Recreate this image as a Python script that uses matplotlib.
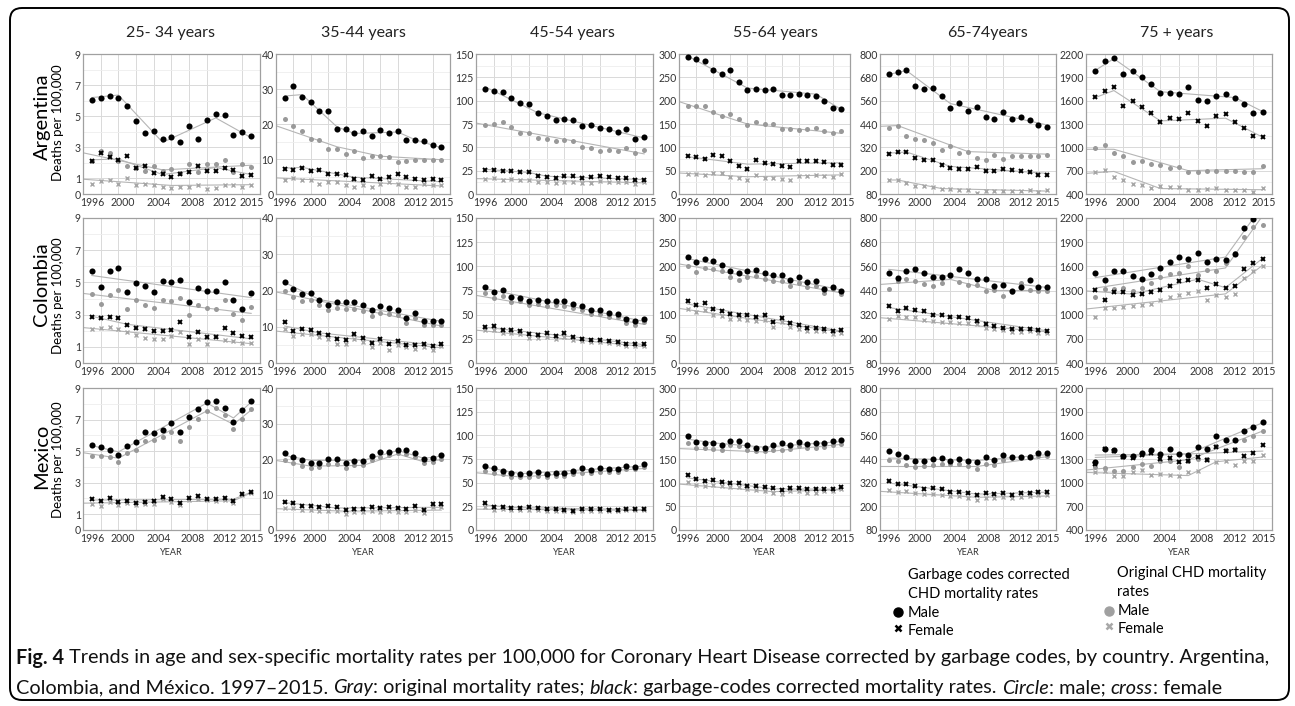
import matplotlib
matplotlib.use("Agg")
import matplotlib.pyplot as plt
from matplotlib.patches import FancyBboxPatch
from matplotlib import font_manager

years = list(range(1997, 2016))

# each panel: [corrected male, corrected female, original male, original female]
arg_25_34 = [
    [6.06, 6.17, 6.28, 6.17, 5.64, 4.68, 3.89, 4.06, 3.53, 3.66, 3.34, 4.34, 3.51, 4.74, 5.15, 5.06, 3.81, 3.98, 3.70],
    [2.13, 2.62, 2.38, 2.21, 2.45, 1.64, 1.81, 1.32, 1.26, 1.11, 1.30, 1.40, 1.81, 1.49, 1.45, 1.66, 1.53, 1.17, 1.21],
    [2.09, 2.77, 2.66, 2.13, 1.83, 1.66, 1.51, 1.79, 1.49, 1.62, 1.34, 1.91, 1.40, 1.91, 1.91, 2.17, 1.43, 1.91, 1.72],
    [0.66, 0.83, 0.91, 0.64, 1.02, 0.57, 0.62, 0.55, 0.47, 0.38, 0.47, 0.45, 0.60, 0.30, 0.40, 0.55, 0.60, 0.45, 0.55]]
arg_35_44 = [
    [27.3, 30.9, 27.7, 26.3, 23.8, 23.7, 18.7, 18.5, 17.5, 18.1, 16.6, 18.2, 17.5, 17.9, 15.3, 15.3, 15.1, 13.9, 13.5],
    [7.2, 7.0, 7.5, 6.7, 6.9, 5.7, 5.8, 5.5, 4.4, 3.9, 5.1, 4.3, 5.0, 5.8, 4.8, 4.3, 3.9, 4.3, 3.9],
    [21.3, 19.3, 18.1, 15.8, 15.3, 12.8, 12.9, 11.4, 12.4, 10.4, 11.0, 11.0, 10.5, 9.1, 9.5, 9.8, 9.6, 9.6, 9.8],
    [4.0, 4.6, 4.1, 3.9, 2.9, 3.5, 3.4, 2.5, 1.9, 2.5, 2.1, 3.0, 3.5, 3.0, 2.1, 2.0, 2.9, 2.5, 2.5]]
arg_45_54 = [
    [112, 110, 109, 103, 97.5, 96, 86.4, 83.2, 79.3, 80.4, 79.3, 73.2, 73.6, 70.4, 69.6, 66.4, 69.6, 58.6, 61],
    [25.4, 26, 24.6, 24.6, 23.9, 23.2, 18.9, 18.2, 16.8, 19.3, 18.9, 16.8, 17.9, 19.6, 18.6, 17.5, 17.5, 15, 15.4],
    [74, 75.4, 76.8, 71.8, 65.4, 65, 60, 58.6, 56.8, 57.9, 56.4, 50.4, 49.3, 46.4, 47.5, 45.7, 49.3, 43.9, 47.5],
    [16.1, 16.8, 15.4, 15.7, 15, 14.6, 13.2, 12.5, 11.4, 13.2, 12.5, 11.4, 11.8, 14.3, 13.2, 12.5, 12.9, 10.7, 12.9]]
arg_55_64 = [
    [293, 289, 285, 266, 257, 266, 241, 223, 226, 222, 225, 212, 213, 214, 213, 211, 199, 184, 182],
    [82, 79, 74, 84, 82, 71, 61, 54, 73, 66, 64, 61, 57, 71, 71, 71, 68, 63, 63],
    [189, 189, 189, 175, 168, 171, 161, 148, 154, 149, 150, 139, 140, 138, 139, 141, 135, 130, 134],
    [43, 43, 41, 46, 44, 37, 34, 29, 41, 35, 34, 32, 29, 39, 39, 40, 39, 37, 42]]
arg_65_74 = [
    [695, 705, 716, 636, 622, 627, 583, 524, 549, 507, 526, 475, 468, 500, 466, 477, 460, 436, 426],
    [288, 294, 295, 266, 255, 253, 229, 212, 207, 207, 221, 200, 199, 211, 202, 197, 194, 178, 178],
    [422, 431, 378, 363, 358, 343, 305, 329, 292, 294, 266, 256, 280, 258, 275, 275, 275, 275, 283],
    [151, 151, 136, 122, 119, 117, 105, 104, 102, 102, 85, 95, 95, 95, 95, 95, 99, 92, 99]]
arg_75 = [
    [1987, 2106, 2145, 1945, 1979, 1906, 1817, 1694, 1694, 1689, 1774, 1613, 1591, 1664, 1681, 1634, 1557, 1447, 1451],
    [1651, 1728, 1779, 1532, 1596, 1523, 1438, 1332, 1374, 1370, 1447, 1336, 1268, 1404, 1426, 1328, 1255, 1140, 1132],
    [987, 1026, 923, 894, 817, 830, 783, 774, 740, 753, 681, 685, 694, 698, 698, 702, 685, 685, 757],
    [685, 711, 613, 583, 532, 519, 477, 498, 494, 489, 447, 447, 464, 472, 455, 455, 447, 426, 481]]

col_25_34 = [
    [5.71, 4.70, 5.71, 5.88, 4.38, 4.94, 4.79, 4.42, 5.09, 5.02, 5.15, 3.80, 4.66, 4.44, 4.44, 5.02, 3.89, 3.35, 4.36],
    [2.86, 2.82, 2.86, 2.82, 2.35, 2.16, 2.09, 2.01, 1.97, 2.05, 2.52, 1.60, 1.92, 1.60, 1.60, 2.20, 1.84, 1.69, 1.60],
    [4.29, 3.65, 4.19, 4.53, 3.38, 3.89, 3.63, 3.44, 3.89, 3.87, 4.02, 2.97, 3.61, 3.42, 3.33, 3.89, 3.06, 2.65, 3.48],
    [2.14, 2.20, 2.22, 2.09, 1.90, 1.71, 1.58, 1.52, 1.50, 1.65, 1.94, 1.20, 1.47, 1.18, 1.65, 1.41, 1.37, 1.26, 1.26]]
col_35_44 = [
    [22.3, 20.4, 19.1, 19.3, 17.3, 15.9, 16.9, 16.7, 16.9, 16.0, 14.5, 15.6, 15.1, 14.5, 12.5, 13.7, 11.7, 11.5, 11.5],
    [11.2, 8.9, 9.4, 9.1, 8.2, 7.6, 6.5, 6.3, 7.9, 6.8, 5.6, 6.5, 5.3, 6.1, 5.1, 5.1, 5.2, 4.6, 5.3],
    [20.0, 18.2, 17.1, 17.5, 15.9, 14.7, 15.3, 14.9, 14.9, 14.3, 13.0, 13.8, 13.5, 13.2, 10.9, 12.5, 10.4, 10.4, 10.5],
    [9.4, 7.5, 8.0, 7.9, 7.1, 6.6, 5.3, 5.2, 6.5, 5.7, 4.3, 5.6, 3.7, 5.0, 4.3, 3.8, 4.3, 3.7, 4.6]]
col_45_54 = [
    [78.6, 73.3, 75.4, 68.3, 67.6, 64.1, 65.5, 63.7, 64.4, 63.7, 60.9, 58.7, 54.4, 54.4, 52.0, 50.5, 45.2, 43.1, 45.2],
    [37.7, 38.1, 34.5, 34.5, 33.1, 29.9, 29.2, 31.0, 28.1, 30.6, 26.7, 25.3, 23.5, 24.2, 23.1, 21.7, 19.9, 19.9, 19.9],
    [71.9, 67.3, 69.8, 63.3, 64.1, 60.5, 60.9, 59.1, 59.8, 59.4, 56.9, 54.8, 50.9, 50.9, 48.0, 47.3, 41.3, 39.5, 42.0],
    [33.8, 34.5, 31.3, 31.0, 30.2, 26.0, 26.0, 27.4, 25.3, 27.4, 23.8, 23.1, 21.4, 22.1, 21.0, 19.6, 17.4, 17.8, 17.1]]
col_55_64 = [
    [220, 209, 216, 212, 203, 191, 186, 190, 193, 186, 183, 182, 171, 177, 167, 169, 154, 157, 149],
    [129, 121, 125, 112, 107, 101, 100, 99, 95, 99, 85, 93, 83, 79, 73, 73, 71, 66, 68],
    [200, 189, 197, 195, 190, 178, 171, 177, 179, 173, 169, 169, 159, 165, 157, 160, 145, 153, 142],
    [112, 105, 110, 99, 98, 92, 92, 88, 87, 89, 75, 85, 75, 71, 67, 67, 67, 61, 63]]
col_65_74 = [
    [529, 502, 537, 548, 526, 505, 507, 517, 548, 526, 498, 497, 463, 469, 437, 458, 493, 458, 458],
    [361, 339, 352, 345, 337, 318, 318, 310, 308, 303, 289, 272, 262, 255, 247, 250, 250, 242, 238],
    [447, 486, 497, 486, 473, 464, 476, 510, 481, 466, 469, 439, 441, 413, 432, 476, 442, 439, 437],
    [299, 311, 310, 308, 293, 291, 286, 286, 279, 277, 272, 253, 248, 243, 233, 233, 238, 230, 231]]
col_75 = [
    [1516, 1431, 1537, 1537, 1478, 1444, 1503, 1580, 1648, 1716, 1690, 1771, 1648, 1686, 1673, 1754, 2077, 2191, 2300],
    [1308, 1185, 1283, 1283, 1240, 1262, 1283, 1304, 1359, 1419, 1427, 1431, 1329, 1380, 1334, 1355, 1563, 1640, 1690],
    [1215, 1317, 1317, 1325, 1291, 1325, 1397, 1465, 1508, 1516, 1610, 1487, 1550, 1546, 1644, 1763, 1958, 2085, 2119],
    [977, 1079, 1088, 1096, 1104, 1117, 1138, 1185, 1215, 1245, 1270, 1296, 1181, 1250, 1220, 1260, 1461, 1545, 1605]]

mex_25_34 = [
    [5.40, 5.26, 5.09, 4.77, 5.32, 5.60, 6.23, 6.16, 6.33, 6.78, 6.20, 7.17, 7.65, 8.14, 8.18, 7.75, 6.85, 7.58, 8.16],
    [1.96, 1.81, 2.00, 1.77, 1.81, 1.72, 1.77, 1.81, 2.11, 1.94, 1.72, 2.04, 2.13, 1.98, 1.96, 2.00, 1.81, 2.28, 2.38],
    [4.66, 4.66, 4.62, 4.28, 4.87, 5.09, 5.65, 5.71, 5.88, 6.20, 5.65, 6.50, 7.04, 7.54, 7.71, 7.28, 6.40, 7.04, 7.65],
    [1.64, 1.55, 1.79, 1.60, 1.68, 1.60, 1.64, 1.64, 1.94, 1.79, 1.57, 1.89, 1.94, 1.87, 1.85, 1.89, 1.74, 2.21, 2.32]]
mex_35_44 = [
    [21.6, 20.6, 19.6, 19.0, 19.0, 20.1, 20.1, 18.8, 19.3, 19.5, 20.9, 22.0, 22.0, 22.6, 22.4, 21.6, 20.1, 20.4, 21.2],
    [7.9, 7.5, 6.8, 6.8, 6.6, 6.8, 6.5, 5.7, 6.0, 5.9, 6.5, 6.3, 6.5, 6.2, 6.0, 6.8, 5.5, 7.2, 7.2],
    [19.8, 19.0, 18.1, 17.6, 17.8, 18.7, 18.6, 17.6, 18.2, 18.2, 19.6, 20.7, 21.0, 21.6, 21.5, 20.6, 19.0, 19.2, 20.0],
    [6.2, 6.1, 5.5, 5.5, 5.3, 5.4, 5.4, 4.6, 5.2, 5.0, 5.3, 5.2, 5.3, 5.2, 5.0, 5.7, 4.7, 6.6, 6.6]]
mex_45_54 = [
    [68.0, 65.1, 62.6, 60.1, 59.4, 59.8, 61.6, 58.7, 60.1, 59.8, 62.6, 65.8, 63.7, 65.1, 64.1, 64.1, 67.6, 66.9, 70.1],
    [28.8, 24.6, 24.6, 23.5, 23.1, 23.8, 23.1, 22.1, 21.7, 21.4, 20.3, 22.1, 22.1, 22.4, 21.0, 21.4, 22.4, 22.4, 22.4],
    [61.9, 59.8, 58.7, 56.2, 55.9, 56.2, 57.3, 55.5, 56.6, 56.9, 58.7, 60.1, 60.1, 61.6, 60.9, 60.9, 64.1, 64.8, 66.9],
    [23.8, 21.4, 21.7, 20.6, 20.6, 21.4, 20.6, 19.9, 19.9, 19.6, 18.9, 19.9, 19.9, 20.3, 19.6, 19.6, 20.6, 20.6, 20.6]]
mex_55_64 = [
    [198, 186, 184, 183, 179, 188, 187, 179, 174, 174, 179, 183, 179, 186, 182, 183, 183, 187, 191],
    [116, 108, 104, 106, 101, 99, 99, 94, 92, 90, 88, 85, 89, 89, 86, 86, 87, 87, 90],
    [184, 174, 174, 172, 170, 179, 177, 170, 167, 167, 168, 170, 172, 178, 174, 174, 175, 180, 182],
    [101, 95, 92, 95, 93, 90, 90, 86, 84, 82, 79, 77, 83, 83, 79, 79, 82, 83, 86]]
mex_65_74 = [
    [480, 466, 450, 428, 428, 442, 443, 429, 438, 429, 423, 449, 435, 459, 449, 452, 452, 471, 471],
    [329, 314, 314, 301, 289, 295, 288, 275, 275, 267, 258, 267, 263, 270, 260, 267, 270, 275, 272],
    [435, 429, 412, 398, 402, 412, 414, 414, 414, 404, 391, 414, 412, 435, 443, 443, 454, 454, 457],
    [281, 272, 277, 267, 262, 265, 255, 250, 250, 243, 232, 243, 244, 248, 241, 246, 251, 256, 256]]
mex_75 = [
    [1262, 1432, 1411, 1343, 1343, 1381, 1415, 1368, 1428, 1368, 1347, 1449, 1428, 1589, 1538, 1538, 1657, 1708, 1763],
    [1236, 1430, 1400, 1330, 1310, 1350, 1380, 1300, 1310, 1260, 1270, 1320, 1290, 1450, 1400, 1420, 1340, 1380, 1480],
    [1194, 1186, 1152, 1152, 1203, 1241, 1211, 1279, 1270, 1194, 1279, 1300, 1300, 1462, 1419, 1432, 1542, 1593, 1661],
    [1130, 1150, 1090, 1080, 1130, 1160, 1100, 1110, 1095, 1085, 1140, 1150, 1290, 1260, 1280, 1220, 1270, 1270, 1350]]

# joinpoint trend knots (year, value), same series order
arg_25_34_trend = [[(1997, 6.2), (2000, 6.36), (2005, 3.32), (2011, 4.89), (2015, 3.62)],
                   [(1997, 2.2), (2000, 2.25), (2005, 1.25), (2011, 1.7), (2015, 1.25)],
                   [(1996, 2.65), (2005, 1.55), (2015, 1.85)],
                   [(1996, 0.95), (2006, 0.55), (2015, 0.6)]]
arg_35_44_trend = [[(1997, 28.0), (1999, 28.4), (2003, 19.2), (2005, 17.3), (2010, 17.7), (2012, 15.5), (2015, 13.2)],
                   [(1997, 7.4), (1999, 7.6), (2005, 4.8), (2015, 3.5)],
                   [(1996, 19.5), (2003, 13.5), (2008, 10.8), (2015, 9.8)],
                   [(1996, 4.6), (2015, 2.3)]]
arg_45_54_trend = [[(1997, 115), (2003, 87), (2015, 60)],
                   [(1997, 26.5), (2002, 23), (2004, 19), (2015, 15.5)],
                   [(1996, 76), (2015, 43)],
                   [(1996, 16.5), (2015, 12)]]
arg_55_64_trend = [[(1997, 296), (2004, 227), (2012, 214), (2015, 181)],
                   [(1997, 80), (2004, 64), (2015, 67)],
                   [(1996, 198), (2004, 150), (2015, 130)],
                   [(1996, 45), (2004, 37), (2015, 41)]]
arg_65_74_trend = [[(1997, 695), (1999, 715), (2004, 545), (2015, 435)],
                   [(1997, 290), (1999, 296), (2004, 222), (2015, 186)],
                   [(1996, 428), (1998, 432), (2006, 298), (2015, 285)],
                   [(1997, 152), (1998, 152), (2003, 108), (2015, 95)]]
arg_75_trend = [[(1997, 1990), (1999, 2140), (2004, 1715), (2012, 1640), (2015, 1460)],
                [(1997, 1640), (1999, 1730), (2004, 1340), (2011, 1375), (2015, 1130)],
                [(1996, 975), (1999, 975), (2007, 700), (2015, 725)],
                [(1996, 665), (1999, 690), (2004, 470), (2015, 455)]]
col_25_34_trend = [[(1997, 5.43), (2015, 4.06)],
                   [(1997, 2.9), (2001, 2.4), (2015, 1.5)],
                   [(1996, 4.32), (2015, 3.08)],
                   [(1996, 2.2), (2015, 1.2)]]
col_35_44_trend = [[(1997, 22.2), (2001, 17.5), (2015, 11.5)],
                   [(1997, 10.2), (2001, 8.3), (2015, 4.8)],
                   [(1996, 19.6), (2015, 10.2)],
                   [(1996, 8.8), (2015, 4.2)]]
col_45_54_trend = [[(1997, 77), (2015, 43)],
                   [(1997, 37), (2015, 19)],
                   [(1996, 70), (2015, 40)],
                   [(1996, 34), (2015, 17)]]
col_55_64_trend = [[(1997, 216), (2015, 151)],
                   [(1997, 122), (2015, 66)],
                   [(1996, 205), (2015, 145)],
                   [(1996, 113), (2015, 64)]]
col_65_74_trend = [[(1997, 545), (2015, 455)],
                   [(1997, 355), (2015, 240)],
                   [(1996, 470), (2004, 495), (2009, 440), (2015, 440)],
                   [(1996, 305), (2015, 235)]]
col_75_trend = [[(1997, 1460), (2011, 1715), (2015, 2360)],
                [(1996, 1295), (2001, 1255), (2008, 1440), (2011, 1335), (2015, 1700)],
                [(1997, 1330), (2011, 1580), (2015, 2230)],
                [(1996, 1070), (2011, 1258), (2015, 1615)]]
mex_25_34_trend = [[(1997, 5.35), (2000, 4.95), (2010, 8.05), (2013, 7.1), (2015, 8.1)],
                   [(1997, 1.9), (2013, 1.95), (2015, 2.4)],
                   [(1996, 4.9), (2000, 4.55), (2010, 7.55), (2013, 6.7), (2015, 7.6)],
                   [(1996, 1.7), (2013, 1.85), (2015, 2.35)]]
mex_35_44_trend = [[(1997, 21.0), (2000, 19.6), (2006, 19.6), (2010, 22.4), (2013, 20.2), (2015, 20.8)],
                   [(1997, 7.7), (2003, 6.2), (2015, 6.4)],
                   [(1996, 19.6), (2000, 18.0), (2006, 18.2), (2010, 21.4), (2013, 19.2), (2015, 19.8)],
                   [(1996, 6.0), (2004, 5.3), (2015, 5.6)]]
mex_45_54_trend = [[(1997, 66.5), (2001, 59.5), (2015, 67.5)],
                   [(1997, 26.5), (2000, 23.8), (2015, 21.5)],
                   [(1996, 60.5), (2001, 56), (2015, 65)],
                   [(1996, 22), (2015, 20.8)]]
mex_55_64_trend = [[(1997, 192), (2000, 184), (2006, 175), (2015, 187)],
                   [(1997, 110), (2007, 87), (2015, 86)],
                   [(1996, 172), (2006, 165), (2015, 181)],
                   [(1996, 97), (2007, 81), (2015, 85)]]
mex_65_74_trend = [[(1997, 445), (2007, 432), (2015, 462)],
                   [(1997, 318), (2007, 262), (2015, 272)],
                   [(1996, 402), (2007, 402), (2015, 452)],
                   [(1996, 276), (2007, 246), (2015, 252)]]
mex_75_trend = [[(1997, 1350), (2007, 1365), (2015, 1760)],
                [(1997, 1320), (2015, 1400)],
                [(1996, 1160), (2007, 1290), (2015, 1655)],
                [(1996, 1130), (2007, 1090), (2010, 1265), (2015, 1325)]]

countries = ["Argentina", "Colombia", "Mexico"]
age_titles = ["25- 34 years", "35-44 years", "45-54 years", "55-64 years", "65-74years", "75 + years"]
panels = [[arg_25_34, arg_35_44, arg_45_54, arg_55_64, arg_65_74, arg_75],
          [col_25_34, col_35_44, col_45_54, col_55_64, col_65_74, col_75],
          [mex_25_34, mex_35_44, mex_45_54, mex_55_64, mex_65_74, mex_75]]
trends = [[arg_25_34_trend, arg_35_44_trend, arg_45_54_trend, arg_55_64_trend, arg_65_74_trend, arg_75_trend],
          [col_25_34_trend, col_35_44_trend, col_45_54_trend, col_55_64_trend, col_65_74_trend, col_75_trend],
          [mex_25_34_trend, mex_35_44_trend, mex_45_54_trend, mex_55_64_trend, mex_65_74_trend, mex_75_trend]]
yticks = [[0, 1, 3, 5, 7, 9], [0, 10, 20, 30, 40], [0, 25, 50, 75, 100, 125, 150],
          [0, 50, 100, 150, 200, 250, 300], [80, 200, 320, 440, 560, 680, 800],
          [400, 700, 1000, 1300, 1600, 1900, 2200]]
yminor = [[2, 4, 6, 8], [5, 15, 25, 35], [12.5, 37.5, 62.5, 87.5, 112.5, 137.5],
          [25, 75, 125, 175, 225, 275], [140, 260, 380, 500, 620, 740],
          [550, 850, 1150, 1450, 1750, 2050]]
xlabels = ["1996", "2000", "2004", "2008", "2012", "2015"]
xlabel_pos = [1997, 2000.5, 2004.5, 2008.4, 2012.0, 2015.1]

W, H = 1295, 706
plt.rcParams['font.family'] = ['Lato', 'DejaVu Sans']
fig = plt.figure(figsize=(W / 100, H / 100), dpi=100)

cols = [(83, 260), (276, 450), (476, 653), (679, 850), (880, 1056), (1086, 1272)]
rows = [(54, 194), (218, 363), (388, 530)]

styles = [dict(marker='o', color='black', ms=4.4, mew=0),
          dict(marker='x', color='black', ms=3.4, mew=1.4),
          dict(marker='o', color='#999999', ms=3.6, mew=0),
          dict(marker='x', color='#a6a6a6', ms=3.0, mew=1.0)]
draw_order = [2, 3, 0, 1]

for r in range(3):
    for c in range(6):
        x0, x1 = cols[c]
        y0, y1 = rows[r]
        ax = fig.add_axes([x0 / W, 1 - y1 / H, (x1 - x0) / W, (y1 - y0) / H])
        ax.set_xlim(1996, 2016)
        ax.set_ylim(yticks[c][0], yticks[c][-1])
        ax.set_yticks(yticks[c])
        ax.set_yticks(yminor[c], minor=True)
        labs = list(xlabels)
        if r == 0 and c == 3:
            labs[3] = "200"
        ax.set_xticks(xlabel_pos, labs)
        ax.set_xticks(range(1998, 2016, 2), minor=True)
        ax.tick_params(which='both', length=0, labelsize=7.6, labelcolor='#333333')
        ax.tick_params(axis='y', pad=1.5)
        ax.tick_params(axis='x', pad=2)
        ax.grid(which='minor', axis='x', color='#d9d9d9', lw=0.7)
        ax.grid(which='major', axis='y', color='#d9d9d9', lw=0.7)
        ax.grid(which='minor', axis='y', color='#eeeeee', lw=0.6)
        ax.set_axisbelow(True)
        for s in ax.spines.values():
            s.set_color('#a0a0a0')
            s.set_linewidth(0.9)
        for k in range(4):
            xs, ys = zip(*trends[r][c][k])
            ax.plot(xs, ys, color='#b5b5b5', lw=0.8, zorder=2)
        for k in draw_order:
            ax.plot(years, panels[r][c][k], ls='none', zorder=3, **styles[k])
        if r == 2:
            ax.set_xlabel("YEAR", fontsize=6.5, labelpad=3, color='#333333')

# overlay in pixel coordinates
ov = fig.add_axes([0, 0, 1, 1], zorder=-1)
ov.set_xlim(0, W)
ov.set_ylim(H, 0)
ov.axis('off')
ov.add_patch(FancyBboxPatch((10, 8), 1279, 692, boxstyle="round,pad=0,rounding_size=12",
                            fc='white', ec='black', lw=1.4))

title_x = [171, 363, 572, 775, 987, 1177]
for c in range(6):
    ov.text(title_x[c], 33, age_titles[c], fontsize=11.5, ha='center', va='center', color='#222222')

country_y = [(117, 123), (284, 296), (456, 460)]
for r in range(3):
    ov.text(42, country_y[r][0], countries[r], fontsize=14.5, rotation=90, ha='center', va='center')
    ov.text(58, country_y[r][1], "Deaths per 100,000", fontsize=9.5, rotation=90, ha='center', va='center')

# legend
leg = 10.5
ov.text(908, 575, "Garbage codes corrected", fontsize=leg, va='center')
ov.text(908, 594, "CHD mortality rates", fontsize=leg, va='center')
ov.plot([898], [612], 'o', color='black', ms=6.5)
ov.text(908, 613, "Male", fontsize=leg, va='center')
ov.plot([898], [628], 'x', color='black', ms=5, mew=1.8)
ov.text(908, 631, "Female", fontsize=leg, va='center')
ov.text(1117, 573, "Original CHD mortality", fontsize=leg, va='center')
ov.text(1117, 592, "rates", fontsize=leg, va='center')
ov.plot([1109], [611], 'o', color='#a0a0a0', ms=6.5)
ov.text(1118, 611, "Male", fontsize=leg, va='center')
ov.plot([1109], [626], 'x', color='#a8a8a8', ms=5, mew=1.8)
ov.text(1118, 629, "Female", fontsize=leg, va='center')

# caption
names = [f.name for f in font_manager.fontManager.ttflist]
cap_font = 'Liberation Sans Narrow' if 'Liberation Sans Narrow' in names else 'Lato'
line1 = [("Fig. 4", 'bold', 'normal'),
         (" Trends in age and sex-specific mortality rates per 100,000 for Coronary Heart Disease corrected by garbage codes, by country. Argentina,", 'normal', 'normal')]
line2 = [("Colombia, and México. 1997\u20132015. ", 'normal', 'normal'), ("Gray", 'normal', 'italic'),
         (": original mortality rates; ", 'normal', 'normal'), ("black", 'normal', 'italic'),
         (": garbage-codes corrected mortality rates. ", 'normal', 'normal'), ("Circle", 'normal', 'italic'),
         (": male; ", 'normal', 'normal'), ("cross", 'normal', 'italic'), (": female", 'normal', 'normal')]
renderer = fig.canvas.get_renderer()


def draw_line(parts, y, size):
    x = 16
    made = []
    for txt, wt, st in parts:
        t = ov.text(x, y, txt, fontsize=size, fontweight=wt, fontstyle=st, family=cap_font,
                    va='center', ha='left', color='#111111')
        made.append(t)
        x += t.get_window_extent(renderer=renderer).width
    return x, made


end, tmp = draw_line(line1, 658, 12)
size = 12 * (1262 - 16) / (end - 16)
for t in tmp:
    t.remove()
draw_line(line1, 658, size)
draw_line(line2, 688, size)

fig.savefig("out.png", dpi=100)
